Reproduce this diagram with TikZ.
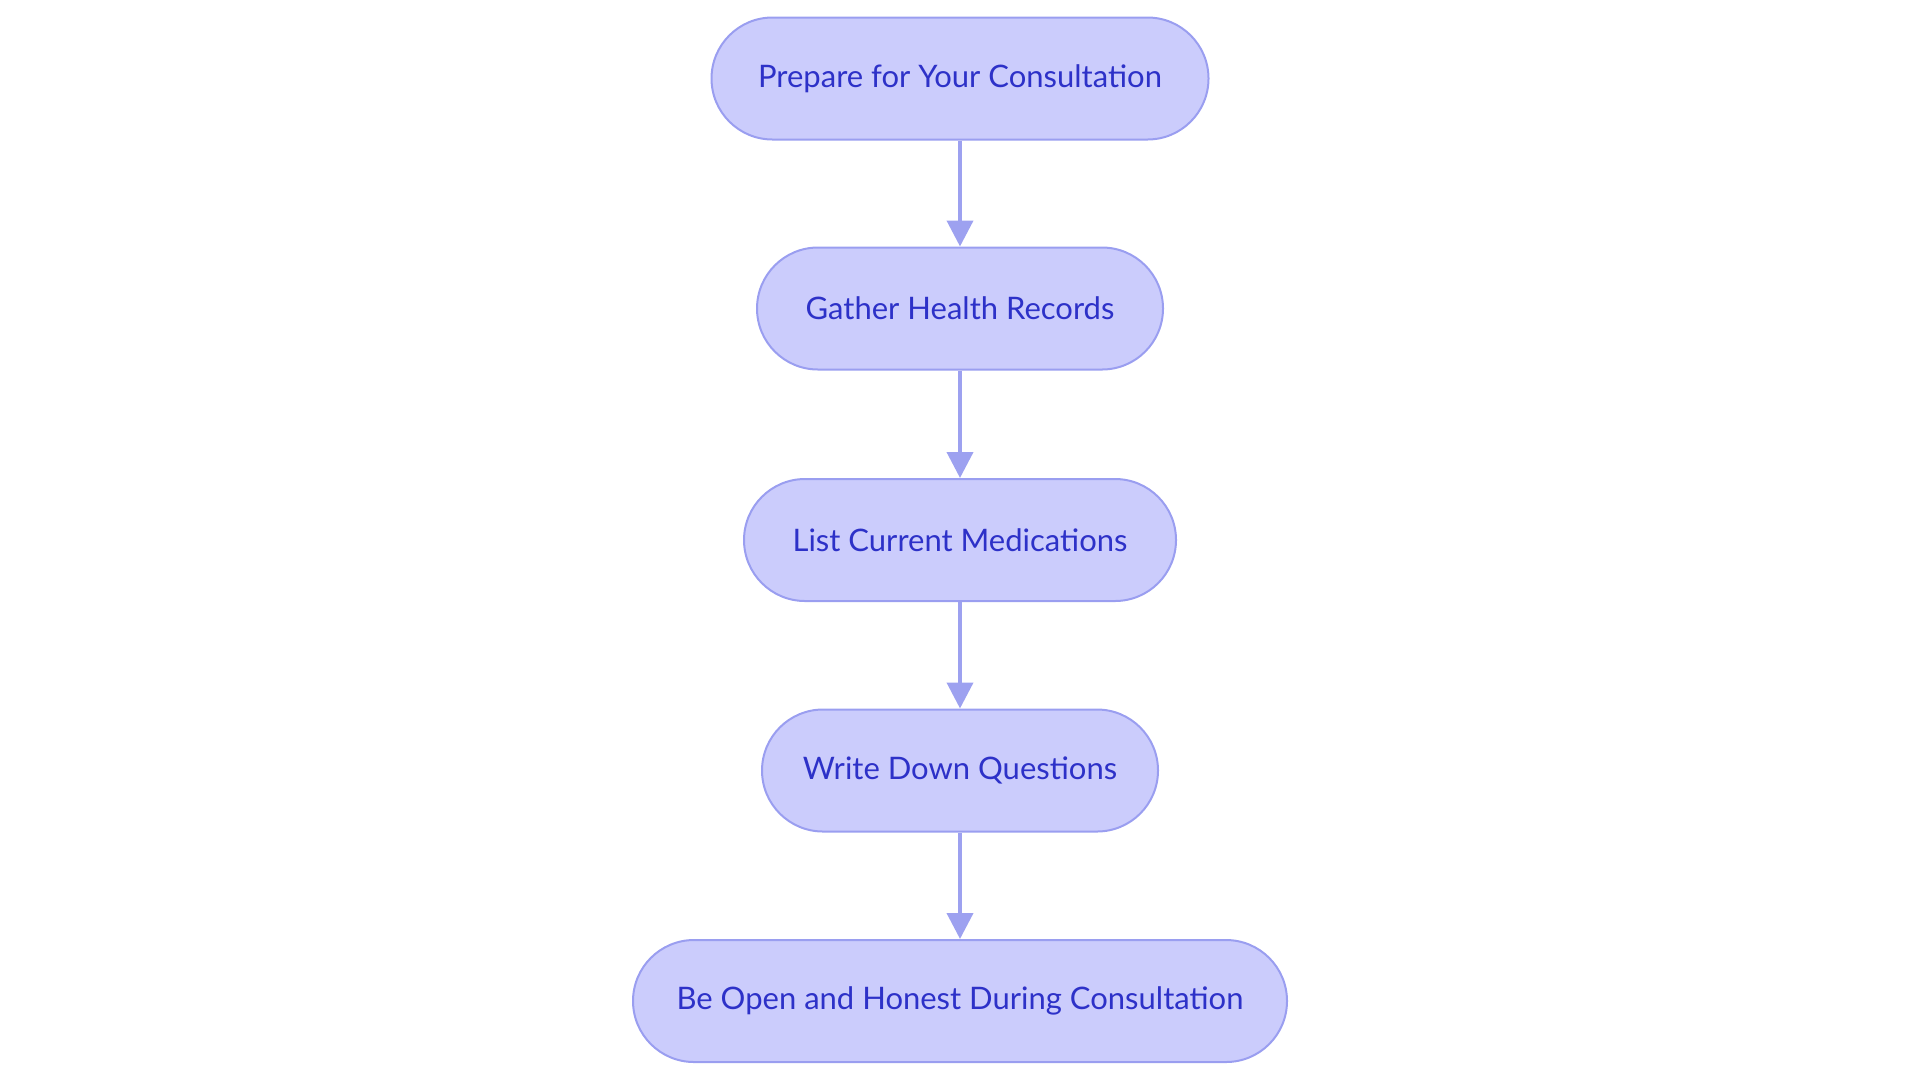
\documentclass[tikz,border=0pt]{standalone}
\usepackage{fontspec}
\setmainfont{Lato}
\usetikzlibrary{arrows.meta}
\definecolor{nodefill}{HTML}{CBCCFC}
\definecolor{nodeline}{HTML}{9A9EF0}
\definecolor{arrowcol}{HTML}{9DA1F0}
\definecolor{nodetext}{HTML}{2D31C8}
\begin{document}
\begin{tikzpicture}[x=0.5pt,y=-0.5pt,
  stadium/.style={draw=nodeline, line width=1pt, fill=nodefill, rounded corners=30.5pt,
    minimum height=61pt, inner sep=0pt, text=nodetext,
    font=\fontsize{15.5pt}{18pt}\selectfont},
  flow/.style={draw=arrowcol, line width=2pt, -{Triangle[length=13pt,width=13pt]}}]
\useasboundingbox (0,0) rectangle (1920,1083);
\node[stadium, minimum width=248.5pt] (n1) at (960,78.5) {Prepare for Your Consultation};
\node[stadium, minimum width=203pt] (n2) at (960,308.5) {Gather Health Records};
\node[stadium, minimum width=216pt] (n3) at (960,540) {List Current Medications};
\node[stadium, minimum width=198pt] (n4) at (960,770.5) {Write Down Questions};
\node[stadium, minimum width=327pt] (n5) at (960,1001) {Be Open and Honest During Consultation};
\draw[flow] (n1) -- (n2);
\draw[flow] (n2) -- (n3);
\draw[flow] (n3) -- (n4);
\draw[flow] (n4) -- (n5);
\end{tikzpicture}
\end{document}
